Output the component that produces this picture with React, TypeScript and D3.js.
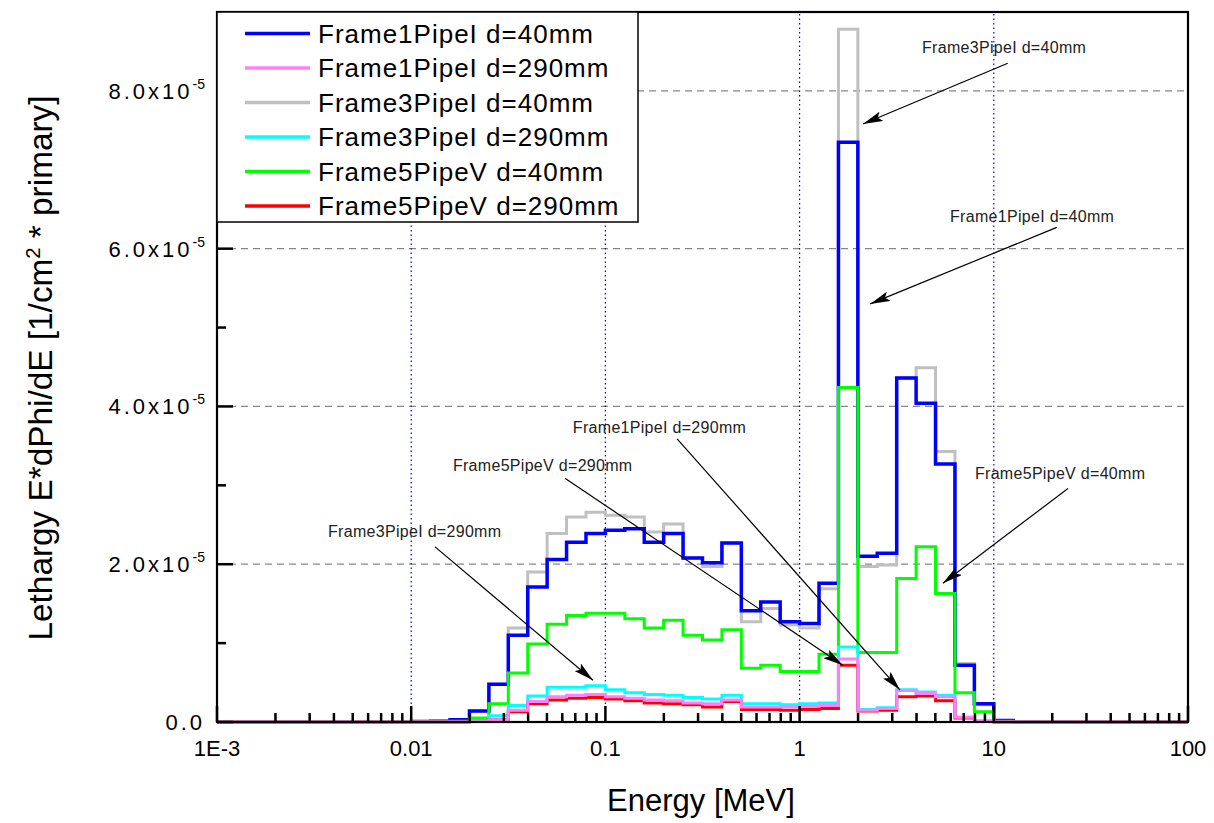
import React, { useRef, useEffect } from "react";
import * as d3 from "d3";

// histogram bins: 10 per decade, first bin starts at 0.01 MeV; values in 1e-5 units
const firstBinLog = -2;
const binsPerDecade = 10;

const frame1PipeI40 = [0.005, 0.01, 0.03, 0.14, 0.48, 1.1, 1.71, 2.06, 2.28, 2.39, 2.43, 2.45, 2.28, 2.39, 2.08, 2.02, 2.27, 1.41, 1.52, 1.27, 1.25, 1.76, 7.35, 2.1, 2.14, 4.36, 4.04, 3.27, 0.72, 0.23, 0.02, 0];
const frame1PipeI290 = [0, 0, 0, 0.01, 0.03, 0.15, 0.26, 0.32, 0.34, 0.35, 0.32, 0.3, 0.28, 0.27, 0.24, 0.23, 0.28, 0.19, 0.19, 0.19, 0.2, 0.21, 0.8, 0.15, 0.17, 0.4, 0.36, 0.32, 0.06, 0.01, 0, 0];
const frame3PipeI40 = [0.005, 0.01, 0.03, 0.14, 0.48, 1.19, 1.9, 2.39, 2.6, 2.66, 2.62, 2.6, 2.41, 2.51, 2.08, 1.97, 2.27, 1.27, 1.44, 1.23, 1.19, 1.69, 8.78, 1.97, 1.99, 4.36, 4.49, 3.43, 0.74, 0.22, 0.02, 0];
const frame3PipeI290 = [0, 0, 0, 0.02, 0.08, 0.21, 0.33, 0.44, 0.44, 0.46, 0.41, 0.37, 0.35, 0.34, 0.31, 0.29, 0.34, 0.23, 0.23, 0.22, 0.23, 0.24, 0.95, 0.16, 0.18, 0.41, 0.38, 0.34, 0.06, 0.01, 0, 0];
const frame5PipeV40 = [0, 0, 0.01, 0.05, 0.23, 0.62, 0.99, 1.24, 1.35, 1.38, 1.38, 1.31, 1.19, 1.29, 1.1, 1.04, 1.17, 0.68, 0.72, 0.64, 0.64, 0.86, 4.24, 0.88, 0.88, 1.82, 2.22, 1.63, 0.37, 0.13, 0.01, 0];
const frame5PipeV290 = [0, 0, 0, 0.01, 0.03, 0.13, 0.23, 0.28, 0.3, 0.31, 0.29, 0.27, 0.24, 0.23, 0.22, 0.19, 0.26, 0.16, 0.16, 0.15, 0.16, 0.17, 0.72, 0.14, 0.15, 0.32, 0.33, 0.27, 0.05, 0.01, 0, 0];

const legendNames = [
  "Frame1PipeI d=40mm",
  "Frame1PipeI d=290mm",
  "Frame3PipeI d=40mm",
  "Frame3PipeI d=290mm",
  "Frame5PipeV d=40mm",
  "Frame5PipeV d=290mm",
];
const legendColors = ["#0000ff", "#ff80ff", "#c0c0c0", "#00ffff", "#00ff00", "#ff0000"];
const legendValues = [frame1PipeI40, frame1PipeI290, frame3PipeI40, frame3PipeI290, frame5PipeV40, frame5PipeV290];
// order the curves are painted in (last on top)
const drawOrder = [2, 0, 4, 3, 5, 1];

const xMajorTicks = [1e-3, 1e-2, 1e-1, 1, 10, 100];
const xTickLabels = ["1E-3", "0.01", "0.1", "1", "10", "100"];
const yMajorTicks = [0, 2, 4, 6, 8];
const yTickLabels = ["0.0", "2.0x10", "4.0x10", "6.0x10", "8.0x10"];
const yMinorTicks = [1, 3, 5, 7];
const xGrid = [0.01, 0.1, 1, 10];
const yGrid = [2, 4, 6, 8];

// annotation text anchor, arrow start and arrow tip in (MeV, 1e-5) units
const annotations = [
  { text: "Frame3PipeI d=40mm", at: [4.27, 8.48], from: [11.8, 8.35], to: [2.12, 7.58] },
  { text: "Frame1PipeI d=40mm", at: [5.95, 6.34], from: [21.1, 6.27], to: [2.31, 5.3] },
  { text: "Frame1PipeI d=290mm", at: [0.068, 3.66], from: [0.234, 3.59], to: [3.29, 0.405] },
  { text: "Frame5PipeV d=290mm", at: [0.0164, 3.18], from: [0.0619, 3.09], to: [1.67, 0.72] },
  { text: "Frame3PipeI d=290mm", at: [0.00373, 2.35], from: [0.01327, 2.22], to: [0.0863, 0.53] },
  { text: "Frame5PipeV d=40mm", at: [8.0, 3.08], from: [24.1, 2.96], to: [5.47, 1.76] },
];

const W = 1214;
const H = 823;
const margin = { top: 12, right: 26, bottom: 101, left: 217 };
const font = "'Liberation Sans', Arial, sans-serif";

export default function App() {
  const svgRef = useRef<SVGSVGElement>(null);

  useEffect(() => {
    const svg = d3.select(svgRef.current);
    svg.selectAll("*").remove();

    const x = d3.scaleLog().domain([1e-3, 100]).range([margin.left, W - margin.right]);
    const y = d3.scaleLinear().domain([0, 9]).range([H - margin.bottom, margin.top]);
    const [x0, x1] = x.range();
    const [y0, y1] = y.range();

    svg
      .append("defs")
      .append("marker")
      .attr("id", "arrow")
      .attr("markerUnits", "userSpaceOnUse")
      .attr("markerWidth", 20)
      .attr("markerHeight", 10)
      .attr("refX", 20)
      .attr("refY", 5)
      .attr("orient", "auto")
      .append("path")
      .attr("d", "M0,0 L20,5 L0,10 L4,5 z")
      .attr("fill", "#000");

    // grid
    yGrid.forEach((d) => {
      svg
        .append("line")
        .attr("x1", x0)
        .attr("x2", x1)
        .attr("y1", y(d))
        .attr("y2", y(d))
        .attr("stroke", "#888")
        .attr("stroke-width", 1.2)
        .attr("stroke-dasharray", "7,5");
    });
    xGrid.forEach((d) => {
      svg
        .append("line")
        .attr("x1", x(d))
        .attr("x2", x(d))
        .attr("y1", y0)
        .attr("y2", y1)
        .attr("stroke", "#0000ff")
        .attr("stroke-width", 1.2)
        .attr("stroke-dasharray", "1.5,3");
    });

    // histogram curves
    const edges = d3.range(33).map((i) => Math.pow(10, firstBinLog + i / binsPerDecade));
    const line = d3
      .line<[number, number]>()
      .x((d) => x(d[0]))
      .y((d) => y(d[1]))
      .curve(d3.curveStepAfter);

    drawOrder.forEach((k) => {
      const vals = legendValues[k];
      const pts: [number, number][] = [[1e-3, 0]];
      vals.forEach((v, i) => pts.push([edges[i], v]));
      pts.push([edges[vals.length], 0]);
      pts.push([100, 0]);
      svg
        .append("path")
        .attr("d", line(pts))
        .attr("fill", "none")
        .attr("stroke", legendColors[k])
        .attr("stroke-width", k === 0 ? 3.5 : 3)
        .attr("stroke-linejoin", "miter");
    });

    // ticks, pointing inward, drawn as small filled bars
    const xMinor: number[] = [];
    xMajorTicks.slice(0, -1).forEach((d) => {
      for (let m = 2; m <= 9; m++) xMinor.push(d * m);
    });
    const tickW = 2.5;
    xMajorTicks.forEach((d) =>
      svg.append("rect").attr("x", x(d) - tickW / 2).attr("y", y0 - 16).attr("width", tickW).attr("height", 16).attr("fill", "#000")
    );
    xMinor.forEach((d) =>
      svg.append("rect").attr("x", x(d) - tickW / 2).attr("y", y0 - 9).attr("width", tickW).attr("height", 9).attr("fill", "#000")
    );
    yMajorTicks.forEach((d) =>
      svg.append("rect").attr("x", x0).attr("y", y(d) - tickW / 2).attr("width", 16).attr("height", tickW).attr("fill", "#000")
    );
    yMinorTicks.forEach((d) =>
      svg.append("rect").attr("x", x0).attr("y", y(d) - tickW / 2).attr("width", 9).attr("height", tickW).attr("fill", "#000")
    );

    // frame
    svg
      .append("rect")
      .attr("x", x0)
      .attr("y", y1)
      .attr("width", x1 - x0)
      .attr("height", y0 - y1)
      .attr("fill", "none")
      .attr("stroke", "#000")
      .attr("stroke-width", 2.2);

    // tick labels
    xMajorTicks.forEach((d, i) => {
      svg
        .append("text")
        .attr("x", x(d))
        .attr("y", y0 + 34)
        .attr("text-anchor", "middle")
        .attr("font-family", font)
        .attr("font-size", 22)
        .text(xTickLabels[i]);
    });

    yMajorTicks.forEach((d, i) => {
      const t = svg
        .append("text")
        .attr("x", 205)
        .attr("y", y(d) + 8)
        .attr("text-anchor", "end")
        .attr("font-family", font)
        .attr("font-size", 22)
        .attr("letter-spacing", 3);
      t.append("tspan").text(yTickLabels[i]);
      if (d !== 0) {
        t.append("tspan").attr("dy", -10).attr("font-size", 14).attr("letter-spacing", 0).text("-5");
      }
    });

    // axis titles
    svg
      .append("text")
      .attr("x", 701)
      .attr("y", 811)
      .attr("text-anchor", "middle")
      .attr("font-family", font)
      .attr("font-size", 31)
      .text("Energy [MeV]");

    const yt = svg
      .append("text")
      .attr("transform", `translate(52, 368) rotate(-90)`)
      .attr("text-anchor", "middle")
      .attr("font-family", font)
      .attr("font-size", 33)
      .attr("textLength", 545)
      .attr("lengthAdjust", "spacingAndGlyphs");
    yt.append("tspan").text("Lethargy E*dPhi/dE [1/cm");
    yt.append("tspan").attr("dy", -12).attr("font-size", 20).text("2");
    yt.append("tspan").attr("dy", 12).text(" * primary]");

    // annotations
    annotations.forEach((a) => {
      svg
        .append("line")
        .attr("x1", x(a.from[0]))
        .attr("y1", y(a.from[1]))
        .attr("x2", x(a.to[0]))
        .attr("y2", y(a.to[1]))
        .attr("stroke", "#000")
        .attr("stroke-width", 1.2)
        .attr("marker-end", "url(#arrow)");
      svg
        .append("text")
        .attr("x", x(a.at[0]))
        .attr("y", y(a.at[1]))
        .attr("font-family", font)
        .attr("font-size", 16)
        .attr("letter-spacing", 0.3)
        .attr("fill", "#222")
        .text(a.text);
    });

    // legend
    svg
      .append("rect")
      .attr("x", x0)
      .attr("y", y1)
      .attr("width", 421)
      .attr("height", 210)
      .attr("fill", "#fff")
      .attr("stroke", "#000")
      .attr("stroke-width", 1.5);
    legendNames.forEach((name, i) => {
      const cy = y1 + 21.5 + i * 34.5;
      svg
        .append("line")
        .attr("x1", x0 + 28)
        .attr("x2", x0 + 93)
        .attr("y1", cy)
        .attr("y2", cy)
        .attr("stroke", legendColors[i])
        .attr("stroke-width", 3.5);
      svg
        .append("text")
        .attr("x", x0 + 101)
        .attr("y", cy + 9)
        .attr("font-family", font)
        .attr("font-size", 26)
        .attr("letter-spacing", 1)
        .text(name);
    });
  }, []);

  return (
    <svg
      ref={svgRef}
      width={W}
      height={H}
      style={{ position: "absolute", left: 0, top: 0, background: "#fff" }}
    ></svg>
  );
}
